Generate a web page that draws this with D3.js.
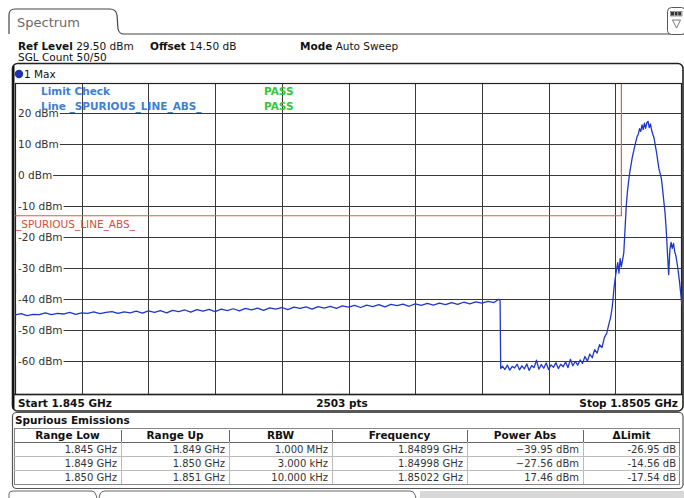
<!DOCTYPE html>
<html><head><meta charset="utf-8">
<script src="https://cdn.jsdelivr.net/npm/d3@7"></script>
<style>body{margin:0;background:#fff}svg{display:block}text{font-family:"DejaVu Sans",Verdana,sans-serif}</style>
</head><body><svg id="c" width="684" height="498"></svg>
<script>
// ---------------- data ----------------
const traceFreqMHz = [
1845.00,1845.05,1845.10,1845.15,1845.20,1845.25,1845.30,1845.35,1845.40,1845.45,
1845.50,1845.55,1845.60,1845.65,1845.70,1845.75,1845.80,1845.85,1845.90,1845.95,
1846.00,1846.05,1846.10,1846.15,1846.20,1846.25,1846.30,1846.35,1846.40,1846.45,
1846.50,1846.55,1846.60,1846.65,1846.70,1846.75,1846.80,1846.85,1846.90,1846.95,
1847.00,1847.05,1847.10,1847.15,1847.20,1847.25,1847.30,1847.35,1847.40,1847.45,
1847.50,1847.55,1847.60,1847.65,1847.70,1847.75,1847.80,1847.85,1847.90,1847.95,
1848.00,1848.05,1848.10,1848.15,1848.20,1848.25,1848.30,1848.35,1848.40,1848.45,
1848.50,1848.55,1848.60,1848.65,1848.70,1848.75,1848.80,1848.85,1848.90,1848.95,
1848.99,1849.00,1849.005,
1849.02,1849.04,1849.06,1849.08,1849.10,1849.12,1849.14,1849.16,1849.18,1849.20,
1849.22,1849.24,1849.26,1849.28,1849.30,1849.32,1849.34,1849.36,1849.38,1849.40,
1849.42,1849.44,1849.46,1849.48,1849.50,1849.52,1849.54,1849.56,1849.58,1849.60,
1849.62,1849.64,1849.66,1849.68,1849.70,1849.72,1849.74,1849.76,1849.78,1849.80,
1849.82,1849.84,1849.86,1849.88,1849.90,
1849.91,1849.92,1849.93,1849.94,1849.95,1849.96,1849.97,1849.98,1849.99,
1850.00,1850.01,1850.02,1850.03,1850.04,1850.05,1850.06,1850.07,1850.08,1850.09,
1850.10,1850.11,1850.12,1850.13,1850.14,1850.15,1850.16,1850.17,1850.18,1850.19,
1850.20,1850.21,1850.22,1850.23,1850.24,1850.25,1850.26,1850.27,1850.28,1850.29,
1850.30,1850.31,1850.32,1850.33,1850.34,1850.35,1850.36,1850.37,1850.38,1850.39,
1850.40,1850.41,1850.42,1850.43,1850.44,1850.45,1850.46,1850.47,1850.48,1850.49,
1850.50];
const traceLevelDbm = [
-45.0,-44.6,-45.2,-44.8,-44.9,-44.3,-44.9,-44.5,-44.7,-44.2,
-44.8,-44.3,-44.5,-44.0,-44.6,-44.2,-43.9,-44.5,-44.0,-44.3,
-43.8,-44.4,-43.7,-44.2,-43.6,-44.3,-43.5,-43.9,-43.4,-44.1,
-43.3,-43.8,-43.2,-43.9,-43.1,-43.6,-43.0,-43.7,-42.9,-43.4,
-42.8,-43.5,-42.7,-43.1,-42.6,-43.3,-42.5,-42.9,-42.4,-43.1,
-42.3,-42.8,-42.2,-42.9,-42.1,-42.5,-41.9,-42.6,-41.8,-42.3,
-41.7,-42.4,-41.6,-42.0,-41.5,-42.2,-41.4,-41.9,-41.3,-41.8,
-41.2,-41.7,-41.0,-41.6,-40.9,-41.4,-40.8,-41.2,-40.6,-41.0,
-39.95,-40.4,-62.3,
-61.5,-62.6,-61.2,-62.8,-61.6,-62.1,-60.9,-62.7,-61.4,-62.4,
-60.8,-62.9,-61.3,-62.0,-59.6,-62.5,-61.0,-62.2,-60.5,-62.6,
-61.1,-61.9,-60.4,-62.3,-60.9,-61.7,-60.2,-62.0,-59.3,-61.4,
-60.0,-61.2,-59.5,-60.6,-58.4,-59.9,-57.6,-58.8,-56.2,-57.3,
-54.6,-55.5,-52.3,-50.8,-47.5,
-46.0,-43.8,-40.5,-36.2,-33.0,-30.4,-28.1,-31.5,-26.8,
-29.5,-27.2,-25.0,-17.5,-10.0,-5.2,-1.8,1.2,3.5,5.8,
7.6,9.4,11.0,12.6,13.3,15.1,14.2,16.3,14.8,16.9,
15.2,17.0,17.46,15.4,16.6,14.5,13.2,12.0,9.6,7.4,
4.8,2.1,0.6,-1.0,-4.5,-8.3,-12.0,-17.5,-25.0,-32.0,
-24.0,-21.6,-23.5,-21.9,-24.6,-26.0,-28.4,-31.2,-34.5,-38.3,
-42.0];
const yTickDbm = [20,10,0,-10,-20,-30,-40,-50,-60];
const yTickLabels = ["20 dBm","10 dBm","0 dBm","-10 dBm","-20 dBm","-30 dBm","-40 dBm","-50 dBm","-60 dBm"];
const limitFreqMHz = [1845.0, 1850.0, 1850.0, 1850.5];
const limitLevelDbm = [-13, -13, 35, 35];
const tableHeaders = ["Range Low","Range Up","RBW","Frequency","Power Abs","\u0394Limit"];
const rangeLow = ["1.845 GHz","1.849 GHz","1.850 GHz"];
const rangeUp = ["1.849 GHz","1.850 GHz","1.851 GHz"];
const rbw = ["1.000 MHz","3.000 kHz","10.000 kHz"];
const peakFreq = ["1.84899 GHz","1.84998 GHz","1.85022 GHz"];
const powerAbs = ["\u221239.95 dBm","\u221227.56 dBm","17.46 dBm"];
const deltaLimit = ["-26.95 dB","-14.56 dB","-17.54 dB"];

// ---------------- drawing ----------------
const svg = d3.select("#c");
const X0 = 15, X1 = 682, Y0 = 84, Y1 = 394;
const x = d3.scaleLinear().domain([1845.0, 1850.5]).range([X0, X1]);
const y = d3.scaleLinear().domain([-70.5, 29.5]).range([Y1, Y0]);

// top tab
svg.append("path")
  .attr("d","M9,34 V15 Q9,9 15,9 H110 Q116,9 117,15 L118,29 Q119,34 124,34 H684")
  .attr("fill","none").attr("stroke","#444").attr("stroke-width",1.2);
svg.append("text").attr("x",17).attr("y",27).attr("font-size",13).attr("fill","#6a6a6a").text("Spectrum");
// icon top right
svg.append("rect").attr("x",667.5).attr("y",7.5).attr("width",18).attr("height",27).attr("rx",4)
  .attr("fill","#fff").attr("stroke","#555");
[0,1,2].forEach(i=>svg.append("rect").attr("x",671+i*3.6).attr("y",12).attr("width",3).attr("height",3.5).attr("fill","#333"));
svg.append("rect").attr("x",670.5).attr("y",11.5).attr("width",11.5).attr("height",4.5).attr("fill","none").attr("stroke","#555").attr("stroke-width",0.6);
svg.append("path").attr("d","M672.5,20 H680.5 L676.5,28 Z").attr("fill","none").attr("stroke","#666").attr("stroke-width",0.9);

// header lines
function labelText(xp, yp, bold, normal){
  const t = svg.append("text").attr("x",xp).attr("y",yp).attr("font-size",10.5).attr("fill","#111");
  t.append("tspan").attr("font-weight","bold").text(bold);
  t.append("tspan").text("\u00a0"+normal);
}
labelText(18,50,"Ref Level","29.50 dBm");
labelText(150,50,"Offset","14.50 dB");
labelText(300,50,"Mode","Auto Sweep");
svg.append("text").attr("x",18).attr("y",61).attr("font-size",10.5).attr("fill","#111").text("SGL Count 50/50");

// diagram frame
svg.append("rect").attr("x",12.5).attr("y",63.5).attr("width",670.5).attr("height",347.5).attr("rx",5)
  .attr("fill","#fff").attr("stroke","#222").attr("stroke-width",1.6);
svg.append("line").attr("x1",13.5).attr("x2",13.5).attr("y1",66).attr("y2",409).attr("stroke","#111").attr("stroke-width",2);
svg.append("circle").attr("cx",19).attr("cy",74).attr("r",4.2).attr("fill","#1e2fb8");
svg.append("text").attr("x",24).attr("y",78).attr("font-size",10.5).attr("fill","#111").text("1 Max");

// plot area
const plot = svg.append("g");
plot.append("rect").attr("x",X0).attr("y",Y0).attr("width",X1-X0).attr("height",Y1-Y0).attr("fill","#fff");
const vDivs = d3.range(1,10).map(k => 1845 + k*0.55);
plot.selectAll("line.v").data(vDivs).join("line")
  .attr("x1",d=>Math.round(x(d))+0.5).attr("x2",d=>Math.round(x(d))+0.5)
  .attr("y1",Y0).attr("y2",Y1).attr("stroke","#3a3a3a").attr("stroke-width",1);
plot.selectAll("line.h").data(yTickDbm).join("line")
  .attr("x1",X0).attr("x2",X1)
  .attr("y1",d=>Math.round(y(d))+0.5).attr("y2",d=>Math.round(y(d))+0.5)
  .attr("stroke","#3a3a3a").attr("stroke-width",1);
// frame lines of plot
plot.append("rect").attr("x",X0+0.5).attr("y",Y0-0.5).attr("width",X1-X0-1).attr("height",Y1-Y0+1)
  .attr("fill","none").attr("stroke","#222").attr("stroke-width",1.2);

// y labels with white background
yTickDbm.forEach((v,i)=>{
  const g = plot.append("g");
  const t = g.append("text").attr("x",18).attr("y",Math.round(y(v))+4).attr("font-size",10.5).attr("fill","#333").text(yTickLabels[i]);
  const w = t.node().getComputedTextLength();
  g.insert("rect","text").attr("x",16).attr("y",Math.round(y(v))-5).attr("width",w+3).attr("height",10).attr("fill","#fff");
});

// clip
svg.append("clipPath").attr("id","clip").append("rect").attr("x",X0).attr("y",Y0).attr("width",X1-X0).attr("height",Y1-Y0);

// limit line
const limPts = limitFreqMHz.map((f,i)=>[f,limitLevelDbm[i]]);
svg.append("path").attr("clip-path","url(#clip)")
  .attr("d", d3.line().x(d=>x(d[0])).y(d=>y(d[1]))(limPts))
  .attr("fill","none").attr("stroke","#d4604f").attr("stroke-width",1.2);
svg.append("text").attr("x",16).attr("y",Math.round(y(-13))+12).attr("font-size",10.5).attr("fill","#d0503c").text("_SPURIOUS_LINE_ABS_");

// trace
const n = Math.min(traceFreqMHz.length, traceLevelDbm.length);
const tracePts = d3.range(n).map(i=>[traceFreqMHz[i], traceLevelDbm[i]]);
svg.append("path").attr("clip-path","url(#clip)")
  .attr("d", d3.line().x(d=>x(d[0])).y(d=>y(d[1]))(tracePts))
  .attr("fill","none").attr("stroke","#1f37c8").attr("stroke-width",1.3).attr("stroke-linejoin","round");

// limit check text
const lc = "#3f7fd2", pass = "#33c63a";
svg.append("text").attr("x",41).attr("y",95).attr("font-size",10.5).attr("font-weight","bold").attr("fill",lc).text("Limit Check");
svg.append("text").attr("x",41).attr("y",110).attr("font-size",10.5).attr("font-weight","bold").attr("fill",lc).text("Line _SPURIOUS_LINE_ABS_");
svg.append("text").attr("x",264).attr("y",95).attr("font-size",10.5).attr("font-weight","bold").attr("fill",pass).text("PASS");
svg.append("text").attr("x",264).attr("y",110).attr("font-size",10.5).attr("font-weight","bold").attr("fill",pass).text("PASS");

// bottom bar of diagram
svg.append("line").attr("x1",13).attr("x2",683).attr("y1",Y1+0.5).attr("y2",Y1+0.5).attr("stroke","#222").attr("stroke-width",1.4);
svg.append("text").attr("x",18).attr("y",407).attr("font-size",10.5).attr("font-weight","bold").attr("fill","#111").text("Start 1.845 GHz");
svg.append("text").attr("x",342).attr("y",407).attr("text-anchor","middle").attr("font-size",10.5).attr("font-weight","bold").attr("fill","#111").text("2503 pts");
svg.append("text").attr("x",678).attr("y",407).attr("text-anchor","end").attr("font-size",10.5).attr("font-weight","bold").attr("fill","#111").text("Stop 1.8505 GHz");

// spurious emissions table
svg.append("rect").attr("x",12.5).attr("y",412.5).attr("width",670.5).attr("height",76).attr("rx",4)
  .attr("fill","#fff").attr("stroke","#555").attr("stroke-width",1.2);
svg.append("text").attr("x",15).attr("y",424).attr("font-size",10.5).attr("font-weight","bold").attr("fill","#111").text("Spurious Emissions");
const colEdges = [14,121,229,332,467,583,680];
const rowTop = 428, rowH = 14;
svg.append("rect").attr("x",14.5).attr("y",rowTop+0.5).attr("width",665).attr("height",rowH*4).attr("fill","#fff").attr("stroke","#888");
svg.append("line").attr("x1",14).attr("x2",680).attr("y1",rowTop+rowH+0.5).attr("y2",rowTop+rowH+0.5).attr("stroke","#666");
[2,3].forEach(r=>svg.append("line").attr("x1",14).attr("x2",680).attr("y1",rowTop+rowH*r+0.5).attr("y2",rowTop+rowH*r+0.5).attr("stroke","#bbb"));
colEdges.slice(1,-1).forEach(cx=>{
  svg.append("line").attr("x1",cx+0.5).attr("x2",cx+0.5).attr("y1",rowTop+2).attr("y2",rowTop+rowH).attr("stroke","#666");
  svg.append("line").attr("x1",cx+0.5).attr("x2",cx+0.5).attr("y1",rowTop+rowH).attr("y2",rowTop+rowH*4).attr("stroke","#bbb");
});
tableHeaders.forEach((h,i)=>{
  svg.append("text").attr("x",(colEdges[i]+colEdges[i+1])/2).attr("y",rowTop+11).attr("text-anchor","middle")
    .attr("font-size",10.5).attr("font-weight","bold").attr("fill","#111").text(h);
});
const cols = [rangeLow, rangeUp, rbw, peakFreq, powerAbs, deltaLimit];
cols.forEach((col,ci)=>{
  col.forEach((v,ri)=>{
    svg.append("text").attr("x",colEdges[ci+1]-4).attr("y",rowTop+rowH*(ri+1)+11).attr("text-anchor","end")
      .attr("font-size",10).attr("fill","#333").text(v);
  });
});

// bottom tabs (partially visible)
svg.append("path").attr("d","M9,498 V494 Q9,491 13,491 H92 Q95,491 96,495 L97,498").attr("fill","none").attr("stroke","#666");
svg.append("path").attr("d","M99,498 L100,494 Q101,491 105,491 H410 Q414,491 415,495 L416,498").attr("fill","none").attr("stroke","#666");
svg.append("rect").attr("x",420).attr("y",491).attr("width",264).attr("height",7).attr("fill","#d8d8d8");
</script></body></html>
